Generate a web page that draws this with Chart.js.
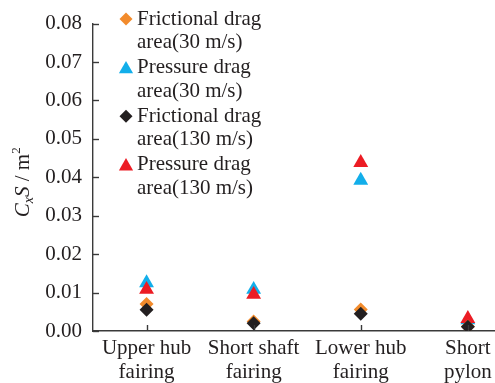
<!DOCTYPE html>
<html>
<head>
<meta charset="utf-8">
<script src="https://cdn.jsdelivr.net/npm/chart.js@4.4.1/dist/chart.umd.min.js"></script>
<style>
  html, body { margin: 0; padding: 0; background: #fff; overflow: hidden; }
  #wrap { width: 495px; height: 383px; overflow: hidden; position: relative; }
  canvas { display: block; }
</style>
</head>
<body>
<div id="wrap"><canvas id="c" width="530" height="383"></canvas></div>
<script>
// Components
const categories = [["Upper hub", "fairing"], ["Short shaft", "fairing"], ["Lower hub", "fairing"], ["Short", "pylon"]];

// Drag areas CxS (m^2)
const frictional30  = [0.0070, 0.0025, 0.0056, 0.0012];
const pressure30    = [0.0125, 0.0108, 0.0392, 0.0029];
const frictional130 = [0.0055, 0.0020, 0.0045, 0.0011];
const pressure130   = [0.0108, 0.0095, 0.0438, 0.0032];

const yTicks = [0, 0.01, 0.02, 0.03, 0.04, 0.05, 0.06, 0.07, 0.08];

const legendLines = [
  ["Frictional drag", "area(30 m/s)"],
  ["Pressure drag", "area(30 m/s)"],
  ["Frictional drag", "area(130 m/s)"],
  ["Pressure drag", "area(130 m/s)"]
];

const ORANGE = '#F28B2C';
const BLUE = '#12AEEA';
const BLACK = '#231F20';
const RED = '#EC1C24';
const INK = '#231F20';
const SERIF = '"Liberation Serif", "Times New Roman", serif';

function series(label, data, color, style, order) {
  return {
    label, data,
    showLine: false,
    pointStyle: style,
    pointRadius: style === 'triangle' ? 8.6 : 7,
    pointHoverRadius: style === 'triangle' ? 8.6 : 7,
    pointBackgroundColor: color,
    pointBorderColor: color,
    pointBorderWidth: 0,
    backgroundColor: color,
    borderColor: color,
    order
  };
}

const datasets = [
  series('Frictional drag area(30 m/s)', frictional30, ORANGE, 'rectRot', 2),
  series('Pressure drag area(30 m/s)', pressure30, BLUE, 'triangle', 4),
  series('Frictional drag area(130 m/s)', frictional130, BLACK, 'rectRot', 1),
  series('Pressure drag area(130 m/s)', pressure130, RED, 'triangle', 3)
];

// Inward tick marks, legend block and y-axis title
const decorations = {
  id: 'decorations',
  afterDraw(chart) {
    const ctx = chart.ctx;
    const xs = chart.scales.x, ys = chart.scales.y;
    const area = chart.chartArea;
    ctx.save();
    ctx.strokeStyle = '#3a3a3a';
    ctx.lineWidth = 1.4;
    // y ticks (pointing right, into the plot)
    ys.ticks.forEach((t, i) => {
      const y = Math.round(ys.getPixelForTick(i)) + 0.5;
      ctx.beginPath();
      ctx.moveTo(area.left, y);
      ctx.lineTo(area.left + 6, y);
      ctx.stroke();
    });
    // x ticks (pointing up, into the plot)
    xs.ticks.forEach((t, i) => {
      const x = Math.round(xs.getPixelForTick(i)) + 0.5;
      ctx.beginPath();
      ctx.moveTo(x, area.bottom);
      ctx.lineTo(x, area.bottom - 6);
      ctx.stroke();
    });

    // legend
    const lx = 126, tx = 137, y0 = 19, step = 48.6, lh = 23.5;
    ctx.font = '21px ' + SERIF;
    ctx.textBaseline = 'middle';
    ctx.textAlign = 'left';
    chart.data.datasets.forEach((ds, i) => {
      const y = y0 + i * step;
      const isTri = ds.pointStyle === 'triangle';
      ctx.fillStyle = ds.pointBackgroundColor;
      Chart.helpers.drawPoint(ctx, {
        pointStyle: ds.pointStyle,
        radius: isTri ? 8.2 : 6.5,
        rotation: 0,
        borderWidth: 0
      }, lx, isTri ? y + 1.5 : y);
      ctx.fillStyle = INK;
      legendLines[i].forEach((line, j) => ctx.fillText(line, tx, y + j * lh));
    });

    // y-axis title: C_x S / m^2
    ctx.translate(22, (area.top + area.bottom) / 2 + 5);
    ctx.rotate(-Math.PI / 2);
    ctx.fillStyle = INK;
    ctx.textBaseline = 'alphabetic';
    const parts = [
      { t: 'C', f: 'italic 21px ' + SERIF, dy: 0 },
      { t: 'x', f: 'italic 14px ' + SERIF, dy: 4 },
      { t: 'S', f: 'italic 21px ' + SERIF, dy: 0 },
      { t: ' / m', f: '21px ' + SERIF, dy: 0 },
      { t: '2', f: '13px ' + SERIF, dy: -9 }
    ];
    let total = 0;
    parts.forEach(p => { ctx.font = p.f; total += ctx.measureText(p.t).width; });
    let x = -total / 2;
    parts.forEach(p => {
      ctx.font = p.f;
      ctx.fillText(p.t, x, 7 + p.dy);
      x += ctx.measureText(p.t).width;
    });
    ctx.restore();
  }
};

new Chart(document.getElementById('c'), {
  type: 'line',
  data: { labels: categories, datasets },
  options: {
    responsive: false,
    animation: false,
    devicePixelRatio: 1,
    layout: { padding: { top: 15.5, right: 8, left: 0, bottom: 0 } },
    plugins: { legend: { display: false }, tooltip: { enabled: false } },
    scales: {
      x: {
        type: 'category',
        offset: true,
        grid: { display: false, drawTicks: false },
        border: { display: true, color: '#3a3a3a', width: 1.4 },
        ticks: {
          color: INK,
          font: { family: SERIF, size: 21, lineHeight: 1.12 },
          padding: 6,
          maxRotation: 0,
          autoSkip: false
        },
        afterFit(scale) { scale.height = 52; }
      },
      y: {
        type: 'linear',
        min: 0,
        max: 0.08,
        afterBuildTicks(scale) { scale.ticks = yTicks.map(v => ({ value: v })); },
        grid: { display: false, drawTicks: false },
        border: { display: true, color: '#3a3a3a', width: 1.4 },
        ticks: {
          color: INK,
          font: { family: SERIF, size: 21 },
          padding: 11,
          callback: v => v.toFixed(2)
        },
        afterFit(scale) { scale.width = 93; }
      }
    }
  },
  plugins: [decorations]
});
</script>
</body>
</html>
